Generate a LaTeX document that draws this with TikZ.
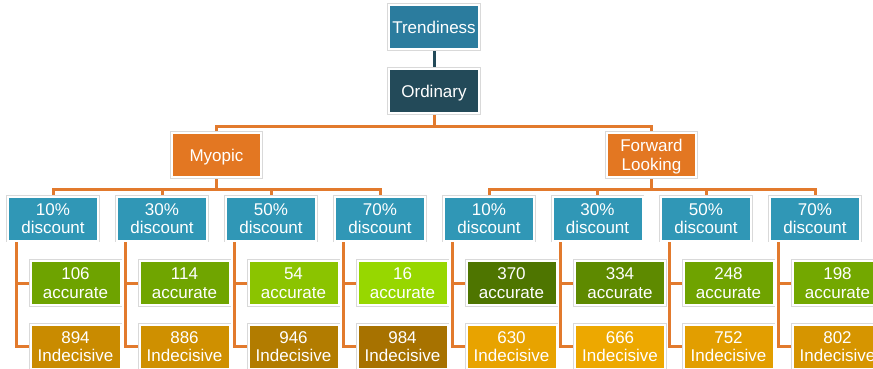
\documentclass[tikz,border=0pt]{standalone}
\usepackage{fontspec}
\setmainfont{Liberation Sans}
\usetikzlibrary{backgrounds}
\definecolor{ctrend}{HTML}{2B7C9E}
\definecolor{cord}{HTML}{234A59}
\definecolor{corange}{HTML}{E37722}
\definecolor{cconn}{HTML}{E27A2D}
\definecolor{cdisc}{HTML}{3097B6}
\definecolor{ga1}{HTML}{6EA300}
\definecolor{ga2}{HTML}{70A500}
\definecolor{ga3}{HTML}{8BC400}
\definecolor{ga4}{HTML}{97D700}
\definecolor{ga5}{HTML}{4E7500}
\definecolor{ga6}{HTML}{5E8A00}
\definecolor{ga7}{HTML}{6FA300}
\definecolor{ga8}{HTML}{73A800}
\definecolor{gi1}{HTML}{C98B00}
\definecolor{gi2}{HTML}{CF9000}
\definecolor{gi3}{HTML}{B27C00}
\definecolor{gi4}{HTML}{A77200}
\definecolor{gi5}{HTML}{E8A300}
\definecolor{gi6}{HTML}{EDA800}
\definecolor{gi7}{HTML}{E29E00}
\definecolor{gi8}{HTML}{D69500}
\tikzset{
  box/.style={rectangle, minimum width=90pt, minimum height=44pt, inner sep=0pt,
    align=center, text=white, font=\fontsize{17}{18.5}\selectfont,
    text depth=0pt,
    draw=white, line width=2pt, preaction={draw=black!15, line width=3.2pt}},
  conn/.style={draw=cconn, line width=3pt},
  darkconn/.style={draw=cord, line width=3pt}
}
\begin{document}
\begin{tikzpicture}[x=1pt,y=-1pt]
\useasboundingbox (0,0) rectangle (873,368);
\clip (0,0) rectangle (873,368);
\node[box, fill=ctrend] (tr) at (434,27) {Trendiness};
\node[box, fill=cord] (ord) at (434,91) {Ordinary};
\node[box, fill=corange, minimum width=89pt] (myo) at (216.5,155) {Myopic};
\node[box, fill=corange, minimum width=89pt] (fwd) at (651.5,155) {Forward\\Looking};
% discount nodes
\node[box, fill=cdisc] (d1) at (53,218.5) {10\%\\discount};
\node[box, fill=cdisc] (d2) at (162,218.5) {30\%\\discount};
\node[box, fill=cdisc] (d3) at (271,218.5) {50\%\\discount};
\node[box, fill=cdisc] (d4) at (380,218.5) {70\%\\discount};
\node[box, fill=cdisc] (d5) at (489,218.5) {10\%\\discount};
\node[box, fill=cdisc] (d6) at (597.5,218.5) {30\%\\discount};
\node[box, fill=cdisc] (d7) at (706,218.5) {50\%\\discount};
\node[box, fill=cdisc] (d8) at (815,218.5) {70\%\\discount};
% accurate nodes
\node[box, fill=ga1] (a1) at (75.5,283) {106\\accurate};
\node[box, fill=ga2] (a2) at (184.5,283) {114\\accurate};
\node[box, fill=ga3] (a3) at (293.5,283) {54\\accurate};
\node[box, fill=ga4] (a4) at (402.5,283) {16\\accurate};
\node[box, fill=ga5] (a5) at (511.5,283) {370\\accurate};
\node[box, fill=ga6] (a6) at (620,283) {334\\accurate};
\node[box, fill=ga7] (a7) at (728.5,283) {248\\accurate};
\node[box, fill=ga8] (a8) at (837.5,283) {198\\accurate};
% indecisive nodes
\node[box, fill=gi1] (i1) at (75.5,346.5) {894\\Indecisive};
\node[box, fill=gi2] (i2) at (184.5,346.5) {886\\Indecisive};
\node[box, fill=gi3] (i3) at (293.5,346.5) {946\\Indecisive};
\node[box, fill=gi4] (i4) at (402.5,346.5) {984\\Indecisive};
\node[box, fill=gi5] (i5) at (511.5,346.5) {630\\Indecisive};
\node[box, fill=gi6] (i6) at (620,346.5) {666\\Indecisive};
\node[box, fill=gi7] (i7) at (728.5,346.5) {752\\Indecisive};
\node[box, fill=gi8] (i8) at (837.5,346.5) {802\\Indecisive};
\begin{scope}[on background layer]
  \draw[darkconn] (tr.south) -- (ord.north);
  \draw[conn] (ord.south) -- ++(0,12) -| (myo.north);
  \draw[conn] (ord.south) -- ++(0,12) -| (fwd.north);
  \foreach \d in {d1,d2,d3,d4}
    \draw[conn] (myo.south) -- ++(0,11) -| (\d.north);
  \foreach \d in {d5,d6,d7,d8}
    \draw[conn] (fwd.south) -- ++(0,11) -| (\d.north);
  \foreach \n in {1,...,8} {
    \draw[conn] ([xshift=9pt]d\n.south west) |- (a\n.west);
    \draw[conn] ([xshift=9pt]d\n.south west) |- (i\n.west);
  }
\end{scope}
\end{tikzpicture}
\end{document}
